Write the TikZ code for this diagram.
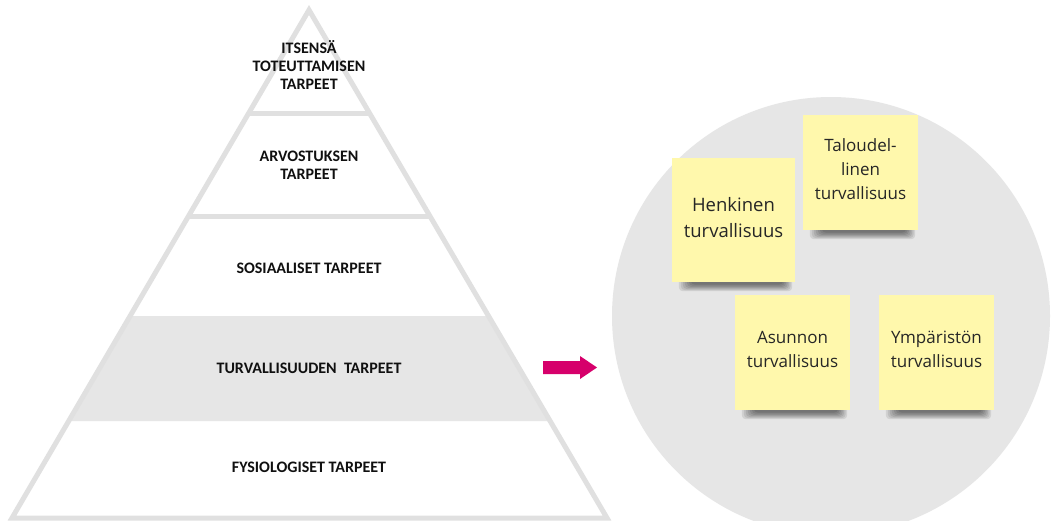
\documentclass[tikz,border=0pt]{standalone}
\usepackage{fontspec}
\usetikzlibrary{calc}
\newfontfamily\pyrfont{Carlito}
\newfontfamily\notefont{Open Sans}
\definecolor{pyrline}{HTML}{E0E0E0}
\definecolor{pyrband}{HTML}{E6E6E6}
\definecolor{discgrey}{HTML}{E6E6E6}
\definecolor{notefill}{HTML}{FFF8AC}
\definecolor{arrowpink}{HTML}{D6006B}
\definecolor{labelink}{HTML}{101010}
\tikzset{
  level/.style={font=\pyrfont\bfseries\fontsize{16}{18}\selectfont, text=labelink, align=center, inner sep=0pt},
  sticky/.style={inner sep=0pt, minimum width=#1, minimum height=#1},
  notetext/.style 2 args={font=\notefont\fontsize{#1}{#2}\selectfont, text=black!85, align=center, inner sep=0pt},
}
% soft shadow under the lower edge of a note
\newcommand\noteshadow[1]{%
  \foreach \k in {0,...,6}{
    \fill[black, opacity=0.09, rounded corners=4pt]
      ($(#1.south west)+(7+2*\k,-4)$) rectangle ($(#1.south east)+(-3-1.5*\k,9-1.1*\k)$);
  }}
\begin{document}
\begin{tikzpicture}[x=1pt, y=-1pt]
\useasboundingbox (0,0) rectangle (1051,520);
\clip (0,0) rectangle (1051,520);
\fill[white] (0,0) rectangle (1051,520);

% --- pyramid ---
\fill[pyrband] (130.1,316) -- (488.5,316) -- (550.1,421) -- (68.7,421) -- cycle;
\draw[pyrline, line width=5pt, line join=miter]
  (309,10) -- (607,518) -- (12,518) -- cycle;
\draw[pyrline, line width=5pt] (248.8,113) -- (369.4,113);
\draw[pyrline, line width=5pt] (188.6,216) -- (429.8,216);

\node[level] (selfact) at (309,65) {ITSENSÄ\\TOTEUTTAMISEN\\TARPEET};
\node[level] (esteem) at (309,165) {ARVOSTUKSEN\\TARPEET};
\node[level] (social) at (309,268) {SOSIAALISET TARPEET};
\node[level] (safety) at (309,368) {TURVALLISUUDEN\ \ TARPEET};
\node[level] (physio) at (309,467) {FYSIOLOGISET TARPEET};

% --- arrow ---
\fill[arrowpink] (543,361) -- (580,361) -- (580,356) -- (597,367.5)
  -- (580,379) -- (580,374) -- (543,374) -- cycle;

% --- disc with notes ---
\node[circle, fill=discgrey, minimum size=438pt, inner sep=0pt] (disc) at (831,316) {};

\coordinate (henkC) at (733.5,220);
\coordinate (talC) at (860.5,172.5);
\coordinate (asuC) at (792.5,352.5);
\coordinate (ympC) at (936.5,352.5);

\path (henkC) node[sticky=123pt, minimum height=124pt] (henk) {}
      (talC) node[sticky=115pt] (tal) {}
      (asuC) node[sticky=115pt] (asu) {}
      (ympC) node[sticky=115pt] (ymp) {};
\noteshadow{henk}
\noteshadow{tal}
\noteshadow{asu}
\noteshadow{ymp}
\fill[notefill] (henk.south west) rectangle (henk.north east);
\fill[notefill] (tal.south west) rectangle (tal.north east);
\fill[notefill] (asu.south west) rectangle (asu.north east);
\fill[notefill] (ymp.south west) rectangle (ymp.north east);

\node[notetext={18.5}{26}] (henkT) at ($(henkC)+(0,-2)$) {Henkinen\\turvallisuus};
\node[notetext={17}{24}] (talT) at ($(talC)+(0,-3.5)$) {Taloudel-\\linen\\turvallisuus};
\node[notetext={17}{24}] (asuT) at ($(asuC)+(0,-3.5)$) {Asunnon\\turvallisuus};
\node[notetext={17}{24}] (ympT) at ($(ympC)+(0,-3.5)$) {Ympäristön\\turvallisuus};
\end{tikzpicture}
\end{document}
